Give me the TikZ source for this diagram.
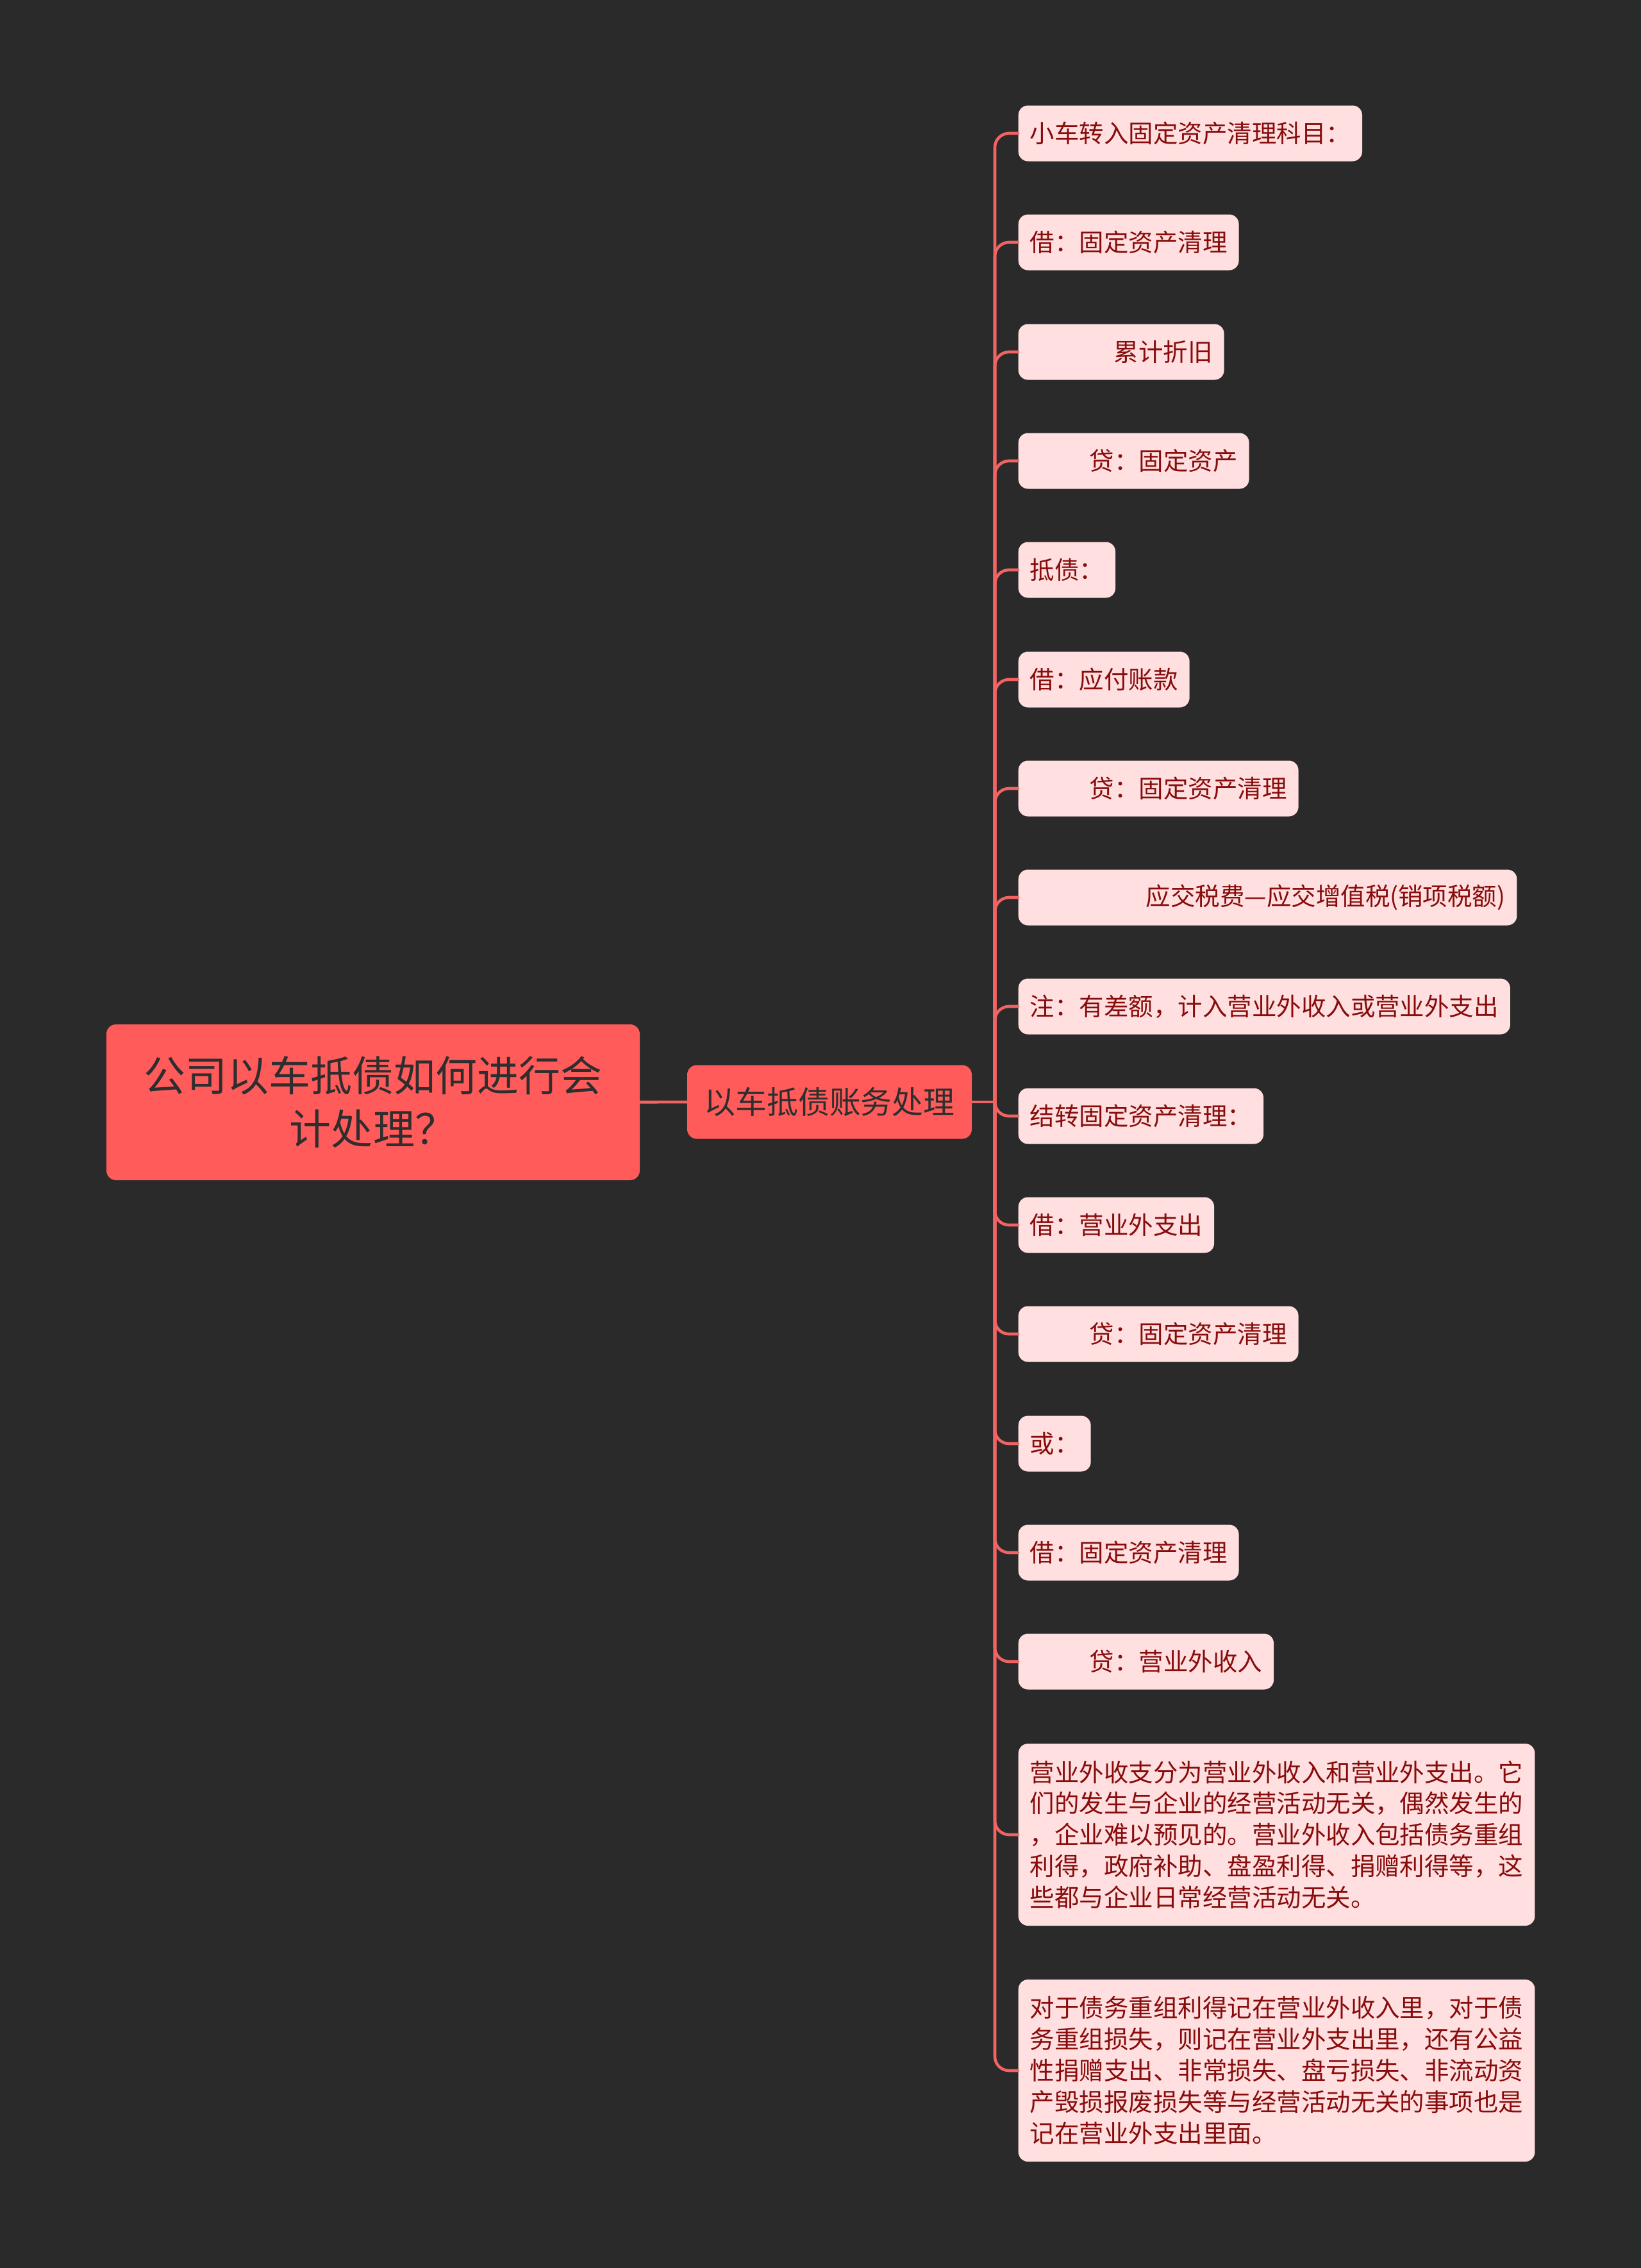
\documentclass[tikz,border=0pt]{standalone}
\usepackage{fontspec}
\setmainfont{Noto Sans CJK SC}
\usetikzlibrary{positioning}
\definecolor{bgdark}{HTML}{2A2A2A}
\definecolor{topicred}{HTML}{FF5B5B}
\definecolor{topictext}{HTML}{2E2E2E}
\definecolor{leafpink}{HTML}{FFDFDF}
\definecolor{leaftext}{HTML}{880C0C}
\definecolor{linkred}{HTML}{F26464}

\begin{document}
\begin{tikzpicture}[
        line cap=round,
        line join=round,
        topic/.style={draw=none, fill=topicred, text=topictext, rounded corners=0.15cm},
        leaf/.style={draw=none, fill=leafpink, text=leaftext, rounded corners=0.15cm,
            anchor=west, minimum height=0.87cm, inner xsep=0.18cm,
            font=\fontsize{10.95pt}{13.9pt}\selectfont},
        link/.style={linkred, line width=1.3pt, rounded corners=0.22cm}
    ]

        % 背景与画幅
        \fill[bgdark] (0,0) rectangle (25.6,-35.38);
        \useasboundingbox (0,0) rectangle (25.6,-35.38);

        % 中心主题与分支
        \node[topic, minimum width=8.32cm, minimum height=2.43cm, align=center,
            font=\fontsize{18.5pt}{23.6pt}\selectfont] (root) at (5.82,-17.195)
            {公司以车抵债如何进行会\\计处理？};
        \node[topic, minimum width=4.44cm, minimum height=1.15cm,
            font=\fontsize{13.9pt}{16pt}\selectfont] (acct) at (12.94,-17.19)
            {以车抵债账务处理};

        % 竖向主干的分叉点
        \coordinate (fork) at (15.52,-17.19);

        % 各条分录
        \node[leaf] (e1)  at (15.88,-2.08)  {小车转入固定资产清理科目：};
        \node[leaf] (e2)  at (15.88,-3.78)  {借：固定资产清理};
        \node[leaf] (e3)  at (15.88,-5.49)  {\hspace*{1.31cm}累计折旧};
        \node[leaf] (e4)  at (15.88,-7.19)  {\hspace*{0.93cm}贷：固定资产};
        \node[leaf] (e5)  at (15.88,-8.89)  {抵债：};
        \node[leaf] (e6)  at (15.88,-10.60) {借：应付账款};
        \node[leaf] (e7)  at (15.88,-12.30) {\hspace*{0.93cm}贷：固定资产清理};
        \node[leaf] (e8)  at (15.88,-14.00) {\hspace*{1.81cm}应交税费—应交增值税(销项税额)};
        \node[leaf] (e9)  at (15.88,-15.70) {注：有差额，计入营业外收入或营业外支出};
        \node[leaf] (e10) at (15.88,-17.41) {结转固定资产清理：};
        \node[leaf] (e11) at (15.88,-19.11) {借：营业外支出};
        \node[leaf] (e12) at (15.88,-20.81) {\hspace*{0.93cm}贷：固定资产清理};
        \node[leaf] (e13) at (15.88,-22.52) {或：};
        \node[leaf] (e14) at (15.88,-24.22) {借：固定资产清理};
        \node[leaf] (e15) at (15.88,-25.92) {\hspace*{0.93cm}贷：营业外收入};

        % 两段说明
        \node[leaf, align=left, minimum height=2.84cm] (e16) at (15.88,-28.62)
            {营业外收支分为营业外收入和营业外支出。它\\
             们的发生与企业的经营活动无关，偶然发生的\\
             ，企业难以预见的。营业外收入包括债务重组\\
             利得，政府补助、盘盈利得、捐赠利得等，这\\
             些都与企业日常经营活动无关。};
        \node[leaf, align=left, minimum height=2.84cm] (e17) at (15.88,-32.30)
            {对于债务重组利得记在营业外收入里，对于债\\
             务重组损失，则记在营业外支出里，还有公益\\
             性捐赠支出、非常损失、盘亏损失、非流动资\\
             产毁损报废损失等与经营活动无关的事项也是\\
             记在营业外支出里面。};

        % 连线
        \draw[link] (root) -- (acct);
        \draw[link] (acct) -- (fork);
        \draw[link] (fork) |- (e1.west);
        \draw[link] (fork) |- (e2.west);
        \draw[link] (fork) |- (e3.west);
        \draw[link] (fork) |- (e4.west);
        \draw[link] (fork) |- (e5.west);
        \draw[link] (fork) |- (e6.west);
        \draw[link] (fork) |- (e7.west);
        \draw[link] (fork) |- (e8.west);
        \draw[link] (fork) |- (e9.west);
        \draw[link] (fork) |- (e10.west);
        \draw[link] (fork) |- (e11.west);
        \draw[link] (fork) |- (e12.west);
        \draw[link] (fork) |- (e13.west);
        \draw[link] (fork) |- (e14.west);
        \draw[link] (fork) |- (e15.west);
        \draw[link] (fork) |- (e16.west);
        \draw[link] (fork) |- (e17.west);

    \end{tikzpicture}
\end{document}
